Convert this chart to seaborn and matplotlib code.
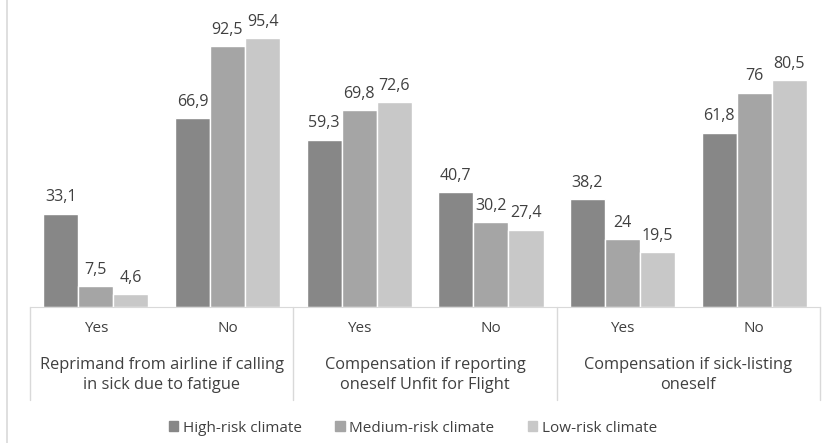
import pandas as pd
import seaborn as sns
import matplotlib.pyplot as plt
from matplotlib.patches import Patch

# data
questions = ['Reprimand from airline if calling\nin sick due to fatigue',
             'Compensation if reporting\noneself Unfit for Flight',
             'Compensation if sick-listing\noneself']
answers = ['Yes', 'No']
climates = ['High-risk climate', 'Medium-risk climate', 'Low-risk climate']
high_risk = [33.1, 66.9, 59.3, 40.7, 38.2, 61.8]
medium_risk = [7.5, 92.5, 69.8, 30.2, 24, 76]
low_risk = [4.6, 95.4, 72.6, 27.4, 19.5, 80.5]
colors = ['#878787', '#a5a5a5', '#c8c8c8']

groups = [f'{a}{i}' for i in range(len(questions)) for a in answers]
rows = []
for name, vals in zip(climates, [high_risk, medium_risk, low_risk]):
    for g, v in zip(groups, vals):
        rows.append({'group': g, 'climate': name, 'value': v})
df = pd.DataFrame(rows)

sns.set_style('white')
plt.rcParams['font.family'] = ['Open Sans', 'DejaVu Sans']
text_col = '#404040'

fig = plt.figure(figsize=(8.28, 4.43), dpi=100)
ax = fig.add_axes([30 / 828, 136 / 443, 790 / 828, 282 / 443])

sns.barplot(data=df, x='group', y='value', hue='climate', order=groups,
            hue_order=climates, palette=colors, width=0.8, saturation=1,
            legend=False, ax=ax)

for cont in ax.containers:
    labs = [f'{b.get_height():g}'.replace('.', ',') for b in cont]
    ax.bar_label(cont, labels=labs, padding=6, fontsize=11.5, color=text_col)

ax.set_ylim(0, 100)
ax.set_xlim(-0.5, len(groups) - 0.5)
ax.set_yticks([])
ax.set_xticks([])
ax.set_xlabel('')
ax.set_ylabel('')
for s in ['top', 'right', 'left']:
    ax.spines[s].set_visible(False)
ax.spines['bottom'].set_color('#d9d9d9')

# category axis below: Yes/No labels, question labels and separators
trans = ax.get_xaxis_transform()
for i, g in enumerate(groups):
    ax.text(i, -21 / 282, answers[i % 2], transform=trans, ha='center',
            va='center', fontsize=11, color=text_col)
for j, q in enumerate(questions):
    ax.text(2 * j + 0.5, -68 / 282, q, transform=trans, ha='center',
            va='center', fontsize=11.8, color=text_col, linespacing=1.35)
for k in range(len(questions) + 1):
    ax.plot([2 * k - 0.5, 2 * k - 0.5], [0, -93 / 282], transform=trans,
            color='#d9d9d9', lw=1, clip_on=False)

# left frame line
fig.add_artist(plt.Line2D([7 / 828, 7 / 828], [0, 1], color='#d9d9d9', lw=1.2))

handles = [Patch(color=c, label=n) for c, n in zip(colors, climates)]
fig.legend(handles=handles, loc='center', bbox_to_anchor=(413 / 828, 1 - 428 / 443),
           ncol=3, frameon=False, fontsize=11, handlelength=0.6,
           handleheight=0.6, handletextpad=0.3, columnspacing=2.2,
           labelcolor=text_col)

plt.savefig('out.png', dpi=100)
